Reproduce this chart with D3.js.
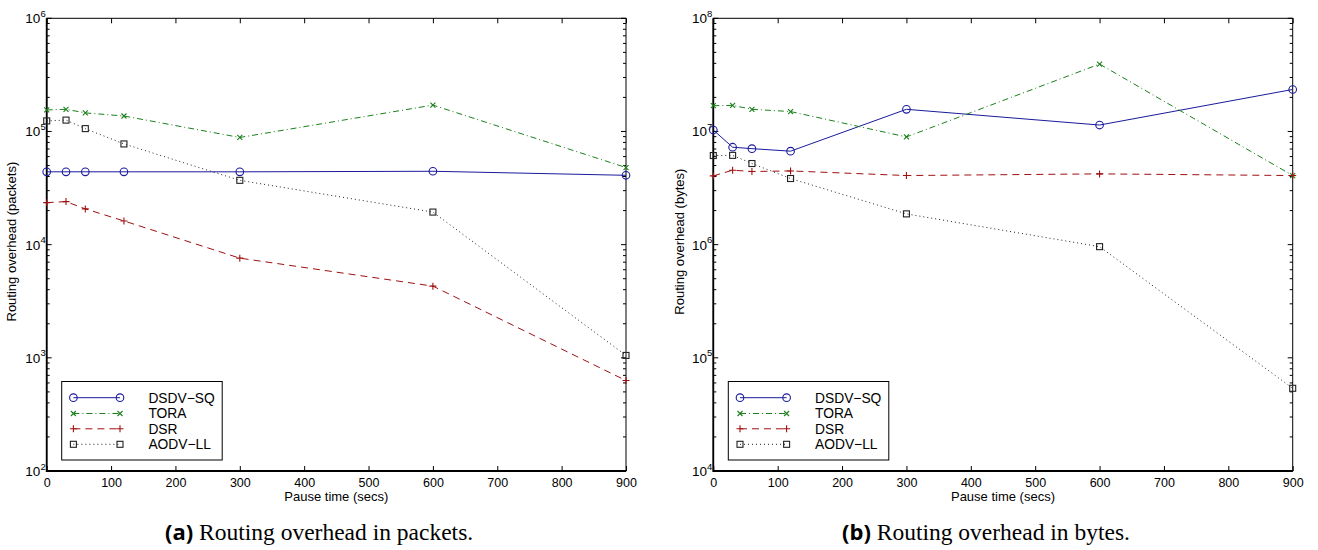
<!DOCTYPE html>
<html>
<head>
<meta charset="utf-8">
<script src="https://cdn.jsdelivr.net/npm/d3@7/dist/d3.min.js"></script>
<style>
  html, body { margin: 0; padding: 0; background: #fff; }
  svg { display: block; }
  .tick text, .lbl { font-family: "Liberation Sans", Arial, sans-serif; }
</style>
</head>
<body>
<svg id="fig" width="1318" height="550"></svg>
<script>
// Pause times (seconds) shared by all series
const pauseTimes = [0, 30, 60, 120, 300, 600, 900];
const xTicks = [0, 100, 200, 300, 400, 500, 600, 700, 800, 900];
const protocols = ["DSDV\u2212SQ", "TORA", "DSR", "AODV\u2212LL"];

// Routing overhead in packets
const packetsDSDV = [44000, 44000, 44000, 44000, 44000, 44500, 41000];
const packetsTORA = [155000, 157000, 146000, 137000, 88500, 171000, 48000];
const packetsDSR  = [23500, 24000, 20700, 16200, 7600, 4300, 630];
const packetsAODV = [124000, 126000, 106000, 77600, 37000, 19400, 1050];

// Routing overhead in bytes
const bytesDSDV = [10300000, 7260000, 7050000, 6700000, 15700000, 11400000, 23500000];
const bytesTORA = [16900000, 17000000, 15700000, 15000000, 8950000, 39400000, 4080000];
const bytesDSR  = [4050000, 4550000, 4430000, 4480000, 4080000, 4220000, 4080000];
const bytesAODV = [6130000, 6150000, 5210000, 3840000, 1870000, 960000, 53800];

const packetsExp = [2, 3, 4, 5, 6];
const bytesExp = [4, 5, 6, 7, 8];

// Line and marker styling per protocol
const styles = [
  { color: "#1a1a9c", dash: null, marker: "circle" },
  { color: "#1b801b", dash: "6,3,1,3", marker: "x" },
  { color: "#a01010", dash: "7,5", marker: "plus" },
  { color: "#222222", dash: "1,3", marker: "square" }
];

const svg = d3.select("#fig");

function drawMarker(g, type, x, y, color) {
  if (type === "circle") {
    g.append("circle").attr("cx", x).attr("cy", y).attr("r", 3.8)
      .attr("fill", "none").attr("stroke", color).attr("stroke-width", 1.1);
  } else if (type === "square") {
    g.append("rect").attr("x", x - 3).attr("y", y - 3).attr("width", 6).attr("height", 6)
      .attr("fill", "none").attr("stroke", color).attr("stroke-width", 1.1);
  } else if (type === "x") {
    const s = 2.5;
    g.append("path").attr("d", `M${x - s},${y - s}L${x + s},${y + s}M${x - s},${y + s}L${x + s},${y - s}`)
      .attr("stroke", color).attr("stroke-width", 1.1);
  } else if (type === "plus") {
    const s = 3.5;
    g.append("path").attr("d", `M${x - s},${y}L${x + s},${y}M${x},${y - s}L${x},${y + s}`)
      .attr("stroke", color).attr("stroke-width", 1.1);
  }
}

function drawPanel(cfg) {
  const { left, right, top, bottom, exps, series, yLabel, yLabelX, legendX, tag, caption, captionX } = cfg;
  const x = d3.scaleLinear().domain([0, 900]).range([left, right]);
  const y = d3.scaleLog().domain([Math.pow(10, exps[0]), Math.pow(10, exps[exps.length - 1])]).range([bottom, top]);
  const g = svg.append("g");

  // Minor and major y ticks on both sides, pointing inward
  const yTickVals = [];
  for (let e = exps[0]; e < exps[exps.length - 1]; e++) {
    for (let m = 1; m <= 9; m++) yTickVals.push(m * Math.pow(10, e));
  }
  yTickVals.push(Math.pow(10, exps[exps.length - 1]));
  yTickVals.forEach(v => {
    const major = Math.abs(Math.log10(v) - Math.round(Math.log10(v))) < 1e-9;
    const len = major ? 5 : 3;
    g.append("line").attr("x1", left).attr("x2", left + len).attr("y1", y(v)).attr("y2", y(v))
      .attr("stroke", "#000").attr("stroke-width", 1);
    g.append("line").attr("x1", right).attr("x2", right - len).attr("y1", y(v)).attr("y2", y(v))
      .attr("stroke", "#000").attr("stroke-width", 1);
  });

  // Bottom x axis with inward ticks
  const xAxis = d3.axisBottom(x).tickValues(xTicks).tickSizeInner(-5).tickSizeOuter(0).tickPadding(10);
  const ax = g.append("g").attr("transform", `translate(0,${bottom})`).call(xAxis);
  ax.select(".domain").remove();
  ax.selectAll(".tick text").attr("font-size", "12.5px").attr("fill", "#000").attr("dy", "0.71em").attr("y", 7);
  ax.selectAll(".tick line").attr("stroke", "#000");
  // Top ticks, pointing down
  const xTop = d3.axisTop(x).tickValues(xTicks).tickSizeInner(-5).tickSizeOuter(0).tickFormat("");
  const axt = g.append("g").attr("transform", `translate(0,${top})`).call(xTop);
  axt.select(".domain").remove();
  axt.selectAll(".tick line").attr("stroke", "#000");

  // Frame
  g.append("rect").attr("x", left).attr("y", top).attr("width", right - left).attr("height", bottom - top)
    .attr("fill", "none").attr("stroke", "#000").attr("stroke-width", 1);
  g.append("path").attr("d", `M${left},${top}L${left},${bottom}L${right},${bottom}`)
    .attr("fill", "none").attr("stroke", "#000").attr("stroke-width", 1.8);

  // Y tick labels with superscript exponents
  exps.forEach(e => {
    const t = g.append("text").attr("class", "lbl").attr("x", left - 1).attr("y", y(Math.pow(10, e)) + 5)
      .attr("text-anchor", "end").attr("font-size", "13.5px").attr("fill", "#000");
    t.append("tspan").text("10");
    t.append("tspan").attr("dy", -6.5).attr("font-size", "9.5px").text(String(e));
  });

  // Axis titles
  g.append("text").attr("class", "lbl").attr("x", (left + right) / 2).attr("y", bottom + 30)
    .attr("text-anchor", "middle").attr("font-size", "13px").text("Pause time (secs)");
  g.append("text").attr("class", "lbl")
    .attr("transform", `translate(${yLabelX},${(top + bottom) / 2 - 3}) rotate(-90)`)
    .attr("text-anchor", "middle").attr("font-size", "13px").text(yLabel);

  // Series
  const line = d3.line().x((d, i) => x(pauseTimes[i])).y(d => y(d));
  protocols.forEach((p, k) => {
    const st = styles[k];
    g.append("path").datum(series[k]).attr("d", line).attr("fill", "none")
      .attr("stroke", st.color).attr("stroke-width", 1)
      .attr("stroke-dasharray", st.dash);
    series[k].forEach((v, i) => drawMarker(g, st.marker, x(pauseTimes[i]), y(v), st.color));
  });

  // Legend
  const lgTop = 381.5, lgBottom = 460, lgW = 160.5;
  g.append("rect").attr("x", legendX).attr("y", lgTop).attr("width", lgW).attr("height", lgBottom - lgTop)
    .attr("fill", "#fff").attr("stroke", "#000").attr("stroke-width", 1);
  const rows = [397.7, 413.5, 428.8, 444.3];
  protocols.forEach((p, k) => {
    const st = styles[k];
    const x1 = legendX + 11.7, x2 = legendX + 58.3, yy = rows[k];
    g.append("line").attr("x1", x1).attr("x2", x2).attr("y1", yy).attr("y2", yy)
      .attr("stroke", st.color).attr("stroke-width", 1).attr("stroke-dasharray", st.dash);
    drawMarker(g, st.marker, x1, yy, st.color);
    drawMarker(g, st.marker, x2, yy, st.color);
    g.append("text").attr("class", "lbl").attr("x", legendX + 86.7).attr("y", yy + 4.8)
      .attr("font-size", "13.8px").attr("fill", "#000").text(p);
  });

  // Caption
  const cap = svg.append("text").attr("x", captionX).attr("y", 540).attr("text-anchor", "start");
  cap.append("tspan").attr("font-family", "'Open Sans', 'DejaVu Sans', sans-serif")
    .attr("font-weight", "bold").attr("font-size", "22px").text(tag);
  cap.append("tspan").attr("font-family", "'Liberation Serif', 'Times New Roman', serif")
    .attr("font-size", "23.5px").text(" " + caption);
}

drawPanel({
  left: 46.7, right: 626, top: 18.3, bottom: 471, exps: packetsExp,
  series: [packetsDSDV, packetsTORA, packetsDSR, packetsAODV],
  yLabel: "Routing overhead (packets)", yLabelX: 16, legendX: 61.7,
  tag: "(a)", caption: "Routing overhead in packets.", captionX: 165
});

drawPanel({
  left: 713.3, right: 1292.7, top: 18.3, bottom: 471, exps: bytesExp,
  series: [bytesDSDV, bytesTORA, bytesDSR, bytesAODV],
  yLabel: "Routing overhead (bytes)", yLabelX: 684, legendX: 728.3,
  tag: "(b)", caption: "Routing overhead in bytes.", captionX: 842
});
</script>
</body>
</html>
